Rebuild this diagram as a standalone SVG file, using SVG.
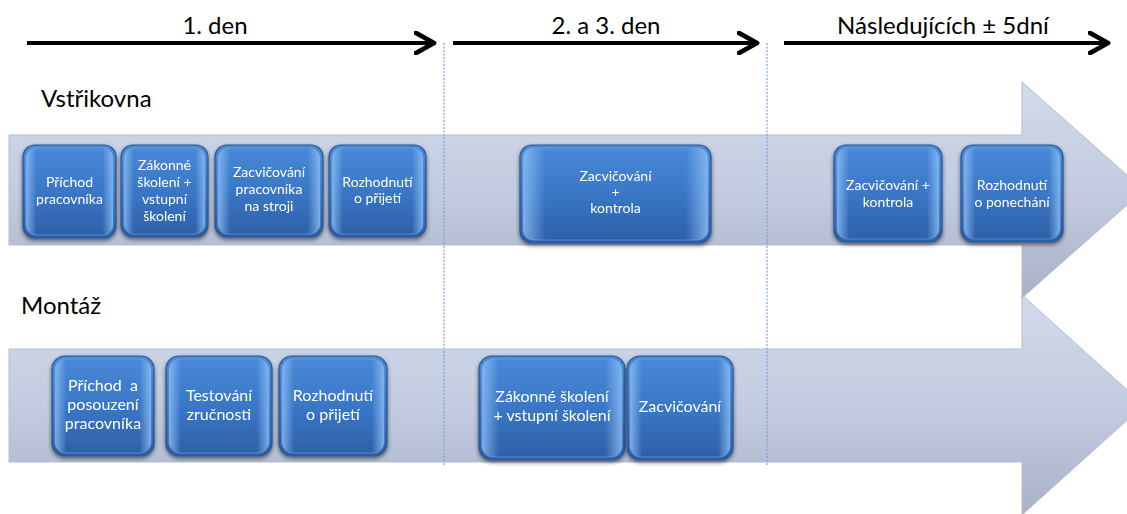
<svg xmlns="http://www.w3.org/2000/svg" width="1127" height="514" viewBox="0 0 1127 514">
<defs>
  <linearGradient id="band" x1="0" y1="0" x2="0" y2="1">
    <stop offset="0" stop-color="#d2dbec"/>
    <stop offset="0.5" stop-color="#c3cce0"/>
    <stop offset="1" stop-color="#a8b1c5"/>
  </linearGradient>
  <linearGradient id="nodeFill" x1="0" y1="0" x2="0" y2="1">
    <stop offset="0" stop-color="#4a8ad8"/>
    <stop offset="0.5" stop-color="#3a77c6"/>
    <stop offset="1" stop-color="#2d5fa6"/>
  </linearGradient>
  <linearGradient id="nodeEdge" x1="0" y1="0" x2="1" y2="0">
    <stop offset="0" stop-color="#8fc0f5" stop-opacity="0.8"/>
    <stop offset="0.12" stop-color="#8fc0f5" stop-opacity="0"/>
    <stop offset="0.88" stop-color="#8fc0f5" stop-opacity="0"/>
    <stop offset="1" stop-color="#8fc0f5" stop-opacity="0.8"/>
  </linearGradient>
  <filter id="shadow" x="-10%" y="-10%" width="120%" height="130%">
    <feGaussianBlur in="SourceAlpha" stdDeviation="2"/>
    <feOffset dx="0" dy="2" result="b"/>
    <feComponentTransfer><feFuncA type="linear" slope="0.55"/></feComponentTransfer>
    <feMerge><feMergeNode/><feMergeNode in="SourceGraphic"/></feMerge>
  </filter>
  <marker id="chev" viewBox="0 0 12 12" refX="10" refY="6" markerWidth="6" markerHeight="6" markerUnits="strokeWidth" orient="auto">
    <path d="M1,1 L10,6 L1,11" fill="none" stroke="#000" stroke-width="2.4" stroke-linecap="round" stroke-linejoin="round"/>
  </marker>
  <style>
    .band{fill:url(#band);stroke:#b3bccf;stroke-width:1}
    .node rect.b{fill:url(#nodeFill);stroke:#2a5796;stroke-width:1.2}
    .node rect.h{fill:url(#nodeEdge);stroke:#7fb0ea;stroke-opacity:0.5;stroke-width:1}
    .nt{font-family:Lato,"Liberation Sans",sans-serif;fill:#fff;text-anchor:middle;font-size:14px;white-space:pre}
    .lt{font-size:16px}
    .title{font-family:Lato,"Liberation Sans",sans-serif;fill:#000;font-size:24px}
    .tl{stroke:#000;stroke-width:4;fill:none;marker-end:url(#chev)}
    .dash{stroke:#7aa0d6;stroke-width:1.2;stroke-dasharray:2 1.5;fill:none}
  </style>
</defs>
<rect width="1127" height="514" fill="#fff"/>

<g id="lane-montaz">
  <polygon class="band" points="9,349 1022,349 1022,295 1144,405 1022,515 1022,462 9,462"/>
</g>
<g id="lane-vstrikovna">
  <polygon class="band" points="9,135 1022,135 1022,82 1144,190 1022,298 1022,245 9,245"/>
</g>

<g id="connectors">
  <line class="tl" x1="27" y1="43" x2="434" y2="43"/>
  <line class="tl" x1="453" y1="43" x2="757" y2="43"/>
  <line class="tl" x1="784" y1="43" x2="1108" y2="43"/>
  <line class="dash" x1="444" y1="43" x2="444" y2="465"/>
  <line class="dash" x1="767" y1="43" x2="767" y2="465"/>
</g>

<g id="labels">
  <text class="title" x="215" y="34" text-anchor="middle">1. den</text>
  <text class="title" x="606" y="34" text-anchor="middle">2. a 3. den</text>
  <text class="title" x="943" y="34" text-anchor="middle">Následujících ± 5dní</text>
  <text class="title" x="41" y="107">Vstřikovna</text>
  <text class="title" x="21" y="314">Montáž</text>
</g>

<g id="u1" class="node" filter="url(#shadow)">
  <rect class="b" x="23" y="145" width="93" height="93" rx="12"/>
  <rect class="h" x="26" y="148" width="87" height="87" rx="10"/>
  <text class="nt" x="69.5" y="187">Příchod</text>
  <text class="nt" x="69.5" y="204">pracovníka</text>
</g>
<g id="u2" class="node" filter="url(#shadow)">
  <rect class="b" x="121" y="145" width="87" height="92" rx="12"/>
  <rect class="h" x="124" y="148" width="81" height="86" rx="10"/>
  <text class="nt" x="164.5" y="170">Zákonné</text>
  <text class="nt" x="164.5" y="187">školení +</text>
  <text class="nt" x="164.5" y="204">vstupní</text>
  <text class="nt" x="164.5" y="221">školení</text>
</g>
<g id="u3" class="node" filter="url(#shadow)">
  <rect class="b" x="215" y="145" width="108" height="92" rx="12"/>
  <rect class="h" x="218" y="148" width="102" height="86" rx="10"/>
  <text class="nt" x="269" y="177">Zacvičování</text>
  <text class="nt" x="269" y="194">pracovníka</text>
  <text class="nt" x="269" y="211">na stroji</text>
</g>
<g id="u4" class="node" filter="url(#shadow)">
  <rect class="b" x="329" y="145" width="97" height="92" rx="12"/>
  <rect class="h" x="332" y="148" width="91" height="86" rx="10"/>
  <text class="nt" x="377.5" y="187">Rozhodnutí</text>
  <text class="nt" x="377.5" y="203">o přijetí</text>
</g>
<g id="u5" class="node" filter="url(#shadow)">
  <rect class="b" x="520" y="145" width="191" height="98" rx="12"/>
  <rect class="h" x="523" y="148" width="185" height="92" rx="10"/>
  <text class="nt" x="615.5" y="181">Zacvičování</text>
  <text class="nt" x="615.5" y="197">+</text>
  <text class="nt" x="615.5" y="213">kontrola</text>
</g>
<g id="u6" class="node" filter="url(#shadow)">
  <rect class="b" x="834" y="145" width="108" height="97" rx="12"/>
  <rect class="h" x="837" y="148" width="102" height="91" rx="10"/>
  <text class="nt" x="888" y="190">Zacvičování +</text>
  <text class="nt" x="888" y="207">kontrola</text>
</g>
<g id="u7" class="node" filter="url(#shadow)">
  <rect class="b" x="961" y="145" width="102" height="97" rx="12"/>
  <rect class="h" x="964" y="148" width="96" height="91" rx="10"/>
  <text class="nt" x="1012" y="190">Rozhodnutí</text>
  <text class="nt" x="1012" y="207">o ponechání</text>
</g>

<g id="l1" class="node" filter="url(#shadow)">
  <rect class="b" x="52" y="356" width="102" height="100" rx="13"/>
  <rect class="h" x="55" y="359" width="96" height="94" rx="11"/>
  <text class="nt lt" x="103" y="391">Příchod  a</text>
  <text class="nt lt" x="103" y="410">posouzení</text>
  <text class="nt lt" x="103" y="429">pracovníka</text>
</g>
<g id="l2" class="node" filter="url(#shadow)">
  <rect class="b" x="166" y="356" width="106" height="100" rx="13"/>
  <rect class="h" x="169" y="359" width="100" height="94" rx="11"/>
  <text class="nt lt" x="219" y="401">Testování</text>
  <text class="nt lt" x="219" y="420">zručnosti</text>
</g>
<g id="l3" class="node" filter="url(#shadow)">
  <rect class="b" x="279" y="356" width="108" height="100" rx="13"/>
  <rect class="h" x="282" y="359" width="102" height="94" rx="11"/>
  <text class="nt lt" x="333" y="401">Rozhodnutí</text>
  <text class="nt lt" x="333" y="420">o přijetí</text>
</g>
<g id="l4" class="node" filter="url(#shadow)">
  <rect class="b" x="479" y="356" width="146" height="104" rx="13"/>
  <rect class="h" x="482" y="359" width="140" height="98" rx="11"/>
  <text class="nt lt" x="552" y="402">Zákonné školení</text>
  <text class="nt lt" x="552" y="421">+ vstupní školení</text>
</g>
<g id="l5" class="node" filter="url(#shadow)">
  <rect class="b" x="627" y="356" width="106" height="104" rx="13"/>
  <rect class="h" x="630" y="359" width="100" height="98" rx="11"/>
  <text class="nt lt" x="680" y="412">Zacvičování</text>
</g>
</svg>
